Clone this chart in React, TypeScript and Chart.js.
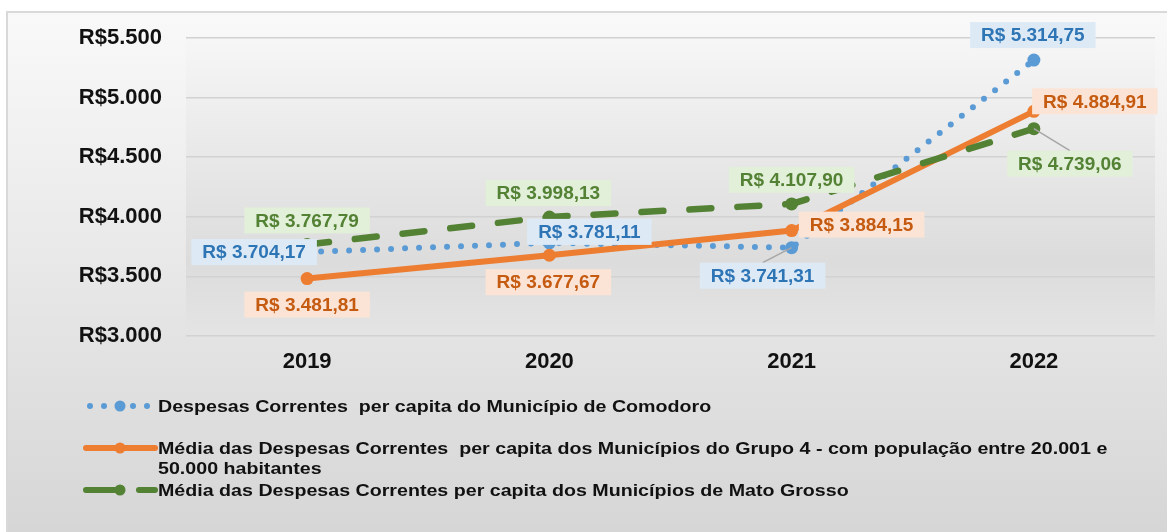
import React, { useEffect, useRef } from 'react';
import { Chart, registerables } from 'chart.js';

Chart.register(...registerables);

const categories = ['2019', '2020', '2021', '2022'];
const comodoro = [3704.17, 3781.11, 3741.31, 5314.75];
const grupo4 = [3481.81, 3677.67, 3884.15, 4884.91];
const matoGrosso = [3767.79, 3998.13, 4107.9, 4739.06];
const yTicks = [3000, 3500, 4000, 4500, 5000, 5500];
const legendLines = [
  ['Despesas Correntes  per capita do Município de Comodoro'],
  ['Média das Despesas Correntes  per capita dos Municípios do Grupo 4 - com população entre 20.001 e', '50.000 habitantes'],
  ['Média das Despesas Correntes per capita dos Municípios de Mato Grosso'],
];

// label placement (offset of label box centre from point), style only
const labelOffsets = [
  [[-53, 0], [40, -11], [-29, 28], [-1, -25]],
  [[0, 26], [-1, 27], [70, -6], [61, -10]],
  [[0, -24], [-1, -24], [0, -24], [36, 35]],
];
const leaders = [[false, false, true, false], [false, false, false, false], [false, false, false, true]];

const lineColors = ['#5b9bd5', '#ed7d31', '#548235'];
const textColors = ['#2e75b6', '#c55a11', '#548235'];
const boxColors = ['#ddeaf6', '#fbe4d5', '#e2efd9'];

const FONT = '"Liberation Sans", Arial, sans-serif';

function fmtThousands(v: number) {
  return String(Math.round(v)).replace(/\B(?=(\d{3})+(?!\d))/g, '.');
}
function fmtMoney(v: number) {
  const [i, d] = v.toFixed(2).split('.');
  return 'R$ ' + i.replace(/\B(?=(\d{3})+(?!\d))/g, '.') + ',' + d;
}

const bgPlugin = {
  id: 'bgPlugin',
  beforeDraw(chart: any) {
    const { ctx, width, height, chartArea } = chart;
    ctx.save();
    ctx.fillStyle = '#ffffff';
    ctx.fillRect(0, 0, width, height);
    const g = ctx.createLinearGradient(0, 12, 0, height);
    g.addColorStop(0, '#f9f9f9');
    g.addColorStop(1, '#d6d6d6');
    ctx.fillStyle = g;
    ctx.fillRect(7, 12, width, height);
    ctx.strokeStyle = '#d9d9d9';
    ctx.lineWidth = 2;
    ctx.strokeRect(7, 12, width + 10, height + 10);
    const pg = ctx.createLinearGradient(0, chartArea.top, 0, chartArea.bottom);
    pg.addColorStop(0, '#f6f6f6');
    pg.addColorStop(0.75, '#dcdcdc');
    pg.addColorStop(1, '#e4e4e4');
    ctx.fillStyle = pg;
    ctx.fillRect(chartArea.left, chartArea.top, chartArea.right - chartArea.left, chartArea.bottom - chartArea.top);
    ctx.restore();
  },
};

const labelPlugin = {
  id: 'labelPlugin',
  afterDatasetsDraw(chart: any) {
    const { ctx } = chart;
    ctx.save();
    ctx.font = 'bold 19px ' + FONT;
    ctx.textAlign = 'center';
    ctx.textBaseline = 'middle';
    chart.data.datasets.forEach((ds: any, di: number) => {
      const meta = chart.getDatasetMeta(di);
      meta.data.forEach((pt: any, i: number) => {
        const text = fmtMoney(ds.data[i]);
        const [dx, dy] = labelOffsets[di][i];
        const cx = pt.x + dx;
        const cy = pt.y + dy;
        const w = ctx.measureText(text).width + 22;
        const h = 26;
        if (leaders[di][i]) {
          ctx.strokeStyle = '#a6a6a6';
          ctx.lineWidth = 1.5;
          ctx.beginPath();
          ctx.moveTo(pt.x, pt.y);
          ctx.lineTo(cx, cy - h / 2);
          ctx.stroke();
        }
        ctx.fillStyle = boxColors[di];
        ctx.fillRect(cx - w / 2, cy - h / 2, w, h);
        ctx.fillStyle = textColors[di];
        ctx.fillText(text, cx, cy + 1);
      });
    });
    ctx.restore();
  },
};

const legendPlugin = {
  id: 'customLegend',
  afterDraw(chart: any) {
    const { ctx } = chart;
    ctx.save();
    const x0 = 86;
    const x1 = 155;
    const xc = 120;
    const tx = 158;
    const rows = [406, 448, 490];
    // blue dotted
    ctx.fillStyle = lineColors[0];
    [90, 104, 133, 147].forEach((x) => {
      ctx.beginPath();
      ctx.arc(x, rows[0], 3, 0, Math.PI * 2);
      ctx.fill();
    });
    ctx.beginPath();
    ctx.arc(xc, rows[0], 5.5, 0, Math.PI * 2);
    ctx.fill();
    // orange solid
    ctx.strokeStyle = lineColors[1];
    ctx.lineWidth = 6;
    ctx.lineCap = 'round';
    ctx.beginPath();
    ctx.moveTo(x0, rows[1]);
    ctx.lineTo(x1, rows[1]);
    ctx.stroke();
    ctx.fillStyle = lineColors[1];
    ctx.beginPath();
    ctx.arc(xc, rows[1], 5.5, 0, Math.PI * 2);
    ctx.fill();
    // green dashed
    ctx.strokeStyle = lineColors[2];
    ctx.beginPath();
    ctx.moveTo(x0, rows[2]);
    ctx.lineTo(xc, rows[2]);
    ctx.moveTo(139, rows[2]);
    ctx.lineTo(x1, rows[2]);
    ctx.stroke();
    ctx.fillStyle = lineColors[2];
    ctx.beginPath();
    ctx.arc(xc, rows[2], 5.5, 0, Math.PI * 2);
    ctx.fill();
    // text (horizontally stretched like the original rendering)
    ctx.fillStyle = '#111111';
    ctx.font = 'bold 17px ' + FONT;
    ctx.textAlign = 'left';
    ctx.textBaseline = 'middle';
    legendLines.forEach((lines, i) => {
      lines.forEach((t, j) => {
        ctx.save();
        ctx.translate(tx, rows[i] + j * 20 + 1);
        ctx.scale(1.155, 1);
        ctx.fillText(t, 0, 0);
        ctx.restore();
      });
    });
    ctx.restore();
  },
};

export default function App() {
  const ref = useRef<HTMLCanvasElement | null>(null);
  useEffect(() => {
    if (!ref.current) return;
    const chart = new Chart(ref.current, {
      type: 'line',
      data: {
        labels: categories,
        datasets: [
          {
            label: legendLines[0][0],
            data: comodoro,
            borderColor: lineColors[0],
            backgroundColor: lineColors[0],
            borderWidth: 6,
            borderDash: [0, 14],
            borderCapStyle: 'round',
            pointRadius: 6.5,
            pointBorderWidth: 0,
            pointBackgroundColor: lineColors[0],
            tension: 0,
            order: 2,
          },
          {
            label: legendLines[1].join(' '),
            data: grupo4,
            borderColor: lineColors[1],
            backgroundColor: lineColors[1],
            borderWidth: 6,
            borderCapStyle: 'round',
            pointRadius: 6.5,
            pointBorderWidth: 0,
            pointBackgroundColor: lineColors[1],
            tension: 0,
            order: 1,
          },
          {
            label: legendLines[2][0],
            data: matoGrosso,
            borderColor: lineColors[2],
            backgroundColor: lineColors[2],
            borderWidth: 6.5,
            borderDash: [22, 26],
            borderCapStyle: 'round',
            pointRadius: 6.5,
            pointBorderWidth: 0,
            pointBackgroundColor: lineColors[2],
            tension: 0,
            order: 0,
          },
        ],
      },
      options: {
        responsive: false,
        animation: false,
        layout: { padding: { left: 0, top: 38, right: 12, bottom: 0 } },
        plugins: {
          legend: { display: false },
          tooltip: { enabled: false },
        },
        scales: {
          x: {
            offset: true,
            grid: { display: false, offset: true },
            border: { display: false },
            ticks: {
              color: '#111111',
              font: { family: FONT, size: 22, weight: 'bold' },
              padding: 5,
            },
            afterFit: (s: any) => {
              s.height = 196;
            },
          },
          y: {
            min: 3000,
            max: 5500,
            afterBuildTicks: (s: any) => {
              s.ticks = yTicks.map((v) => ({ value: v }));
            },
            grid: { color: '#d2d2d2', lineWidth: 1.5, drawTicks: false },
            border: { display: false },
            ticks: {
              color: '#111111',
              font: { family: FONT, size: 22, weight: 'bold' },
              padding: 24,
              callback: (v: any) => 'R$' + fmtThousands(Number(v)),
            },
            afterFit: (s: any) => {
              s.width = 186;
            },
          },
        },
      },
      plugins: [bgPlugin, labelPlugin, legendPlugin],
    });
    return () => chart.destroy();
  }, []);
  return (
    <canvas
      ref={ref}
      width={1167}
      height={532}
      style={{ position: 'absolute', left: 0, top: 0, width: 1167, height: 532 }}
    />
  );
}
